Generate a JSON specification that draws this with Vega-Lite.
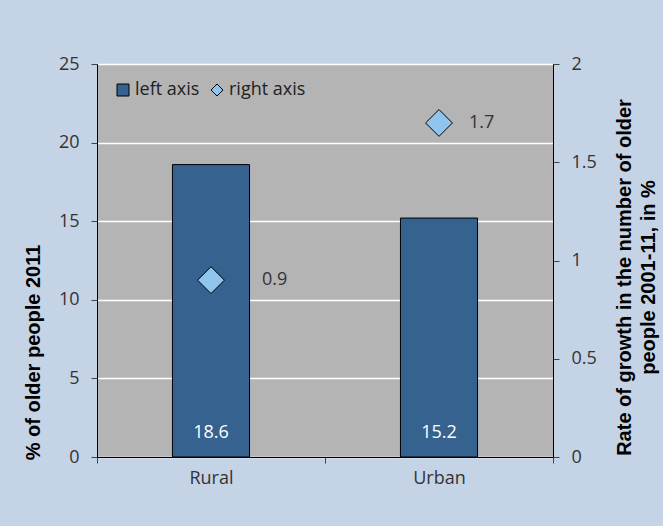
{
  "$schema": "https://vega.github.io/schema/vega-lite/v6.json",
  "width": 456,
  "height": 393,
  "autosize": {"type": "none"},
  "padding": {"left": 97, "top": 64, "right": 110, "bottom": 69},
  "background": "#c5d3e6",
  "config": {
    "font": "Open Sans",
    "view": {"fill": "#b4b4b4", "stroke": "#000000", "strokeWidth": 1},
    "axis": {
      "labelFont": "Open Sans",
      "labelFontSize": 18,
      "labelColor": "#333333",
      "titleFont": "Liberation Sans",
      "titleFontSize": 20,
      "titleFontWeight": "bold",
      "titleColor": "#000000",
      "domainColor": "#000000",
      "tickColor": "#444444",
      "tickSize": 6
    },
    "legend": {
      "labelFont": "Open Sans",
      "labelFontSize": 18,
      "labelColor": "#222222",
      "symbolStrokeColor": "#000000",
      "symbolStrokeWidth": 1
    }
  },
  "datasets": {
    "bars": [
      {"area": "Rural", "share": 18.6, "series": "left axis"},
      {"area": "Urban", "share": 15.2, "series": "left axis"}
    ],
    "points": [
      {"area": "Rural", "growth": 0.9, "series": "right axis"},
      {"area": "Urban", "growth": 1.7, "series": "right axis"}
    ]
  },
  "encoding": {
    "x": {
      "field": "area",
      "type": "nominal",
      "scale": {"paddingInner": 0, "paddingOuter": 0},
      "axis": {"title": null, "labelAngle": 0, "tickBand": "extent", "grid": false, "labelPadding": 6}
    }
  },
  "layer": [
    {
      "data": {"name": "bars"},
      "encoding": {
        "y": {
          "field": "share",
          "type": "quantitative",
          "scale": {"domain": [0, 25]},
          "axis": {
            "title": "% of older people 2011",
            "values": [0, 5, 10, 15, 20, 25],
            "grid": true,
            "gridColor": "#ffffff",
            "gridWidth": 1.5,
            "labelPadding": 12,
            "titlePadding": 15,
            "titleY": 288
          }
        }
      },
      "layer": [
        {
          "mark": {"type": "bar", "width": {"band": 0.338}, "stroke": "#000000", "strokeWidth": 1},
          "encoding": {
            "color": {
              "field": "series",
              "type": "nominal",
              "scale": {"domain": ["left axis", "right axis"], "range": ["#36628f", "#8fc4ec"]},
              "legend": {
                "title": null,
                "orient": "top-left",
                "direction": "horizontal",
                "offset": 17,
                "symbolStrokeColor": "#000000",
                "symbolStrokeWidth": 1,
                "symbolSize": 144,
                "symbolOpacity": 1,
                "labelOffset": 3,
                "columnPadding": 8,
                "encode": {"symbols": {"update": {"stroke": {"value": "#000000"}, "strokeWidth": {"value": 1}}}}
              }
            }
          }
        },
        {
          "mark": {"type": "text", "color": "#ffffff", "fontSize": 18, "baseline": "middle", "dy": -24},
          "encoding": {
            "y": {"datum": 0},
            "text": {"field": "share", "type": "quantitative", "format": ".1f"}
          }
        }
      ]
    },
    {
      "data": {"name": "points"},
      "encoding": {
        "y": {
          "field": "growth",
          "type": "quantitative",
          "scale": {"domain": [0, 2]},
          "axis": {
            "orient": "right",
            "title": ["Rate of growth in the number of older", "people 2001-11, in %"],
            "titleAngle": 270,
            "titleBaseline": "bottom",
            "titleLineHeight": 24,
            "titleY": 213,
            "values": [0, 0.5, 1, 1.5, 2],
            "format": ".1~f",
            "grid": false,
            "labelPadding": 12,
            "titlePadding": 14
          }
        }
      },
      "layer": [
        {
          "mark": {"type": "point", "filled": true, "size": 720, "stroke": "#000000", "strokeWidth": 1, "opacity": 1},
          "encoding": {
            "color": {
              "field": "series",
              "type": "nominal",
              "legend": {
                "title": null,
                "orient": "top-left",
                "direction": "horizontal",
                "offset": 17,
                "symbolStrokeColor": "#000000",
                "symbolStrokeWidth": 1,
                "symbolSize": 144,
                "symbolOpacity": 1,
                "labelOffset": 3,
                "columnPadding": 8,
                "encode": {"symbols": {"update": {"stroke": {"value": "#000000"}, "strokeWidth": {"value": 1}}}}
              }
            },
            "shape": {
              "field": "series",
              "type": "nominal",
              "scale": {"domain": ["left axis", "right axis"], "range": ["square", "diamond"]},
              "legend": {
                "title": null,
                "orient": "top-left",
                "direction": "horizontal",
                "offset": 17,
                "symbolStrokeColor": "#000000",
                "symbolStrokeWidth": 1,
                "symbolSize": 144,
                "symbolOpacity": 1,
                "labelOffset": 3,
                "columnPadding": 8,
                "encode": {"symbols": {"update": {"stroke": {"value": "#000000"}, "strokeWidth": {"value": 1}}}}
              }
            }
          }
        },
        {
          "transform": [{"filter": "datum.area == 'Rural'"}],
          "mark": {"type": "text", "color": "#333333", "fontSize": 18, "baseline": "middle", "align": "left", "dx": 51},
          "encoding": {
            "text": {"field": "growth", "type": "quantitative", "format": ".1f"}
          }
        },
        {
          "transform": [{"filter": "datum.area == 'Urban'"}],
          "mark": {"type": "text", "color": "#333333", "fontSize": 18, "baseline": "middle", "align": "left", "dx": 30},
          "encoding": {
            "text": {"field": "growth", "type": "quantitative", "format": ".1f"}
          }
        }
      ]
    }
  ],
  "resolve": {"scale": {"y": "independent"}}
}
